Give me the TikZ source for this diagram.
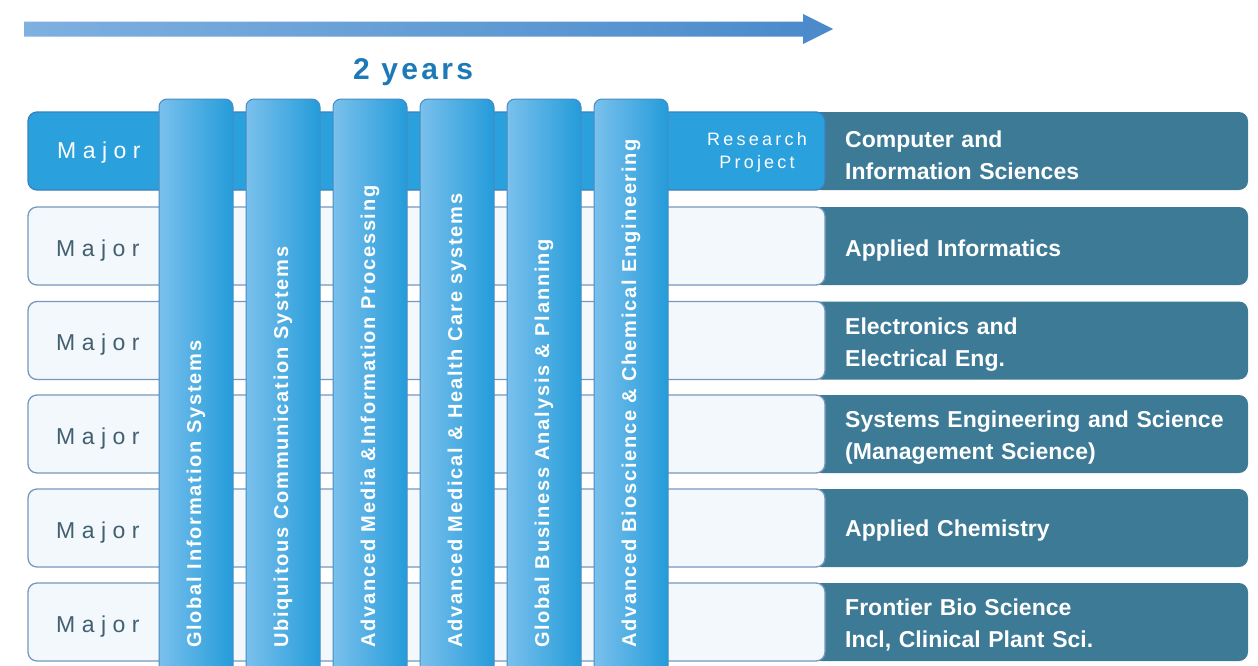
\documentclass[tikz,border=0pt]{standalone}
\usepackage{fontspec}
\setmainfont{Liberation Sans}
\newfontfamily\majorfont[LetterSpace=28]{Liberation Sans}
\newfontfamily\resfont[LetterSpace=18]{Liberation Sans}
\newfontfamily\colfont[LetterSpace=9]{Liberation Sans}
\newfontfamily\yearfont[LetterSpace=11]{Liberation Sans}
\definecolor{arrL}{RGB}{126,176,224}
\definecolor{arrR}{RGB}{74,138,202}
\definecolor{yearC}{RGB}{30,122,182}
\definecolor{rowOneFill}{RGB}{42,160,220}
\definecolor{rowOneLine}{RGB}{58,128,188}
\definecolor{rowFill}{RGB}{242,248,252}
\definecolor{rowLine}{RGB}{118,152,190}
\definecolor{tealC}{RGB}{60,122,150}
\definecolor{colL}{RGB}{122,192,236}
\definecolor{colR}{RGB}{36,156,218}
\definecolor{colLine}{RGB}{72,140,196}
\definecolor{majorC}{RGB}{66,96,112}
\tikzset{
  rowbox/.style={rectangle, rounded corners=9pt, minimum width=797pt, minimum height=78pt, inner sep=0pt, line width=1.3pt},
  lightrow/.style={rowbox, fill=rowFill, draw=rowLine},
  bluerow/.style={rowbox, fill=rowOneFill, draw=rowOneLine},
  tealbox/.style={rectangle, rounded corners=9pt, minimum width=436pt, minimum height=78pt, inner sep=0pt, fill=tealC},
  colbox/.style={rectangle, rounded corners=8pt, minimum width=74pt, minimum height=580pt, inner sep=0pt, left color=colL, right color=colR, draw=colLine, line width=1pt},
  coltext/.style={rotate=90, anchor=west, inner sep=0pt, text=white, font=\colfont\bfseries\fontsize{20}{24}\selectfont},
  majortext/.style={anchor=base west, inner sep=0pt, font=\majorfont\fontsize{23}{28}\selectfont},
  labeltext/.style={anchor=base west, inner sep=0pt, text=white, text width=400pt, align=left, font=\bfseries\fontsize{23}{32}\selectfont},
}
\begin{document}
\begin{tikzpicture}[x=1pt,y=-1pt]
\useasboundingbox (0,0) rectangle (1258,665);
% time arrow
\coordinate (arrowStart) at (24,29);
\coordinate (arrowEnd) at (833,29);
\shade[left color=arrL, right color=arrR]
  (24,21.5) -- (803,21.5) -- (803,14) -- (arrowEnd) -- (803,44) -- (803,36.5) -- (24,36.5) -- cycle;
\node[anchor=base west, inner sep=0pt, text=yearC, font=\yearfont\bfseries\fontsize{30}{36}\selectfont] (years) at (353,79) {2 years};
% teal boxes (behind)
\foreach \i/\yc in {1/151,2/246,3/340.5,4/434,5/528,6/622}{
  \node[tealbox] (teal\i) at (1030,\yc) {};
}
% left row boxes
\node[bluerow] (row1) at (426.5,151) {};
\foreach \i/\yc in {2/246,3/340.5,4/434,5/528,6/622}{
  \node[lightrow] (row\i) at (426.5,\yc) {};
}
% Major labels
\node[majortext, text=white] (maj1) at (57,158) {Major};
\foreach \i/\yc in {2/246,3/340.5,4/434,5/528,6/622}{
  \node[majortext, text=majorC] (maj\i) at (56,\yc+10) {Major};
}
% research project
\node[anchor=base, inner sep=0pt, text=white, align=center, text width=160pt, font=\resfont\fontsize{18}{23}\selectfont] (research) at (757,145) {Research\\Project};
% columns
\foreach \i/\xc in {1/196,2/283,3/370,4/457,5/544,6/631}{
  \node[colbox] (col\i) at (\xc,389) {};
}
\node[coltext] (ct1) at (196,648) {Global Information Systems};
\node[coltext] (ct2) at (283,648) {Ubiquitous Communication Systems};
\node[coltext] (ct3) at (370,648) {Advanced Media \&Information Processing};
\node[coltext] (ct4) at (457,648) {Advanced Medical \& Health Care systems};
\node[coltext] (ct5) at (544,648) {Global Business Analysis \& Planning};
\node[coltext] (ct6) at (631,648) {Advanced Bioscience \& Chemical Engineering};
% right labels
\node[labeltext] (lab1) at (845,147) {Computer and\\Information Sciences};
\node[labeltext] (lab2) at (845,256) {Applied Informatics};
\node[labeltext] (lab3) at (845,334) {Electronics and\\Electrical Eng.};
\node[labeltext] (lab4) at (845,427) {Systems Engineering and Science\\(Management Science)};
\node[labeltext] (lab5) at (845,536) {Applied Chemistry};
\node[labeltext] (lab6) at (845,615) {Frontier Bio Science\\Incl, Clinical Plant Sci.};
\end{tikzpicture}
\end{document}
